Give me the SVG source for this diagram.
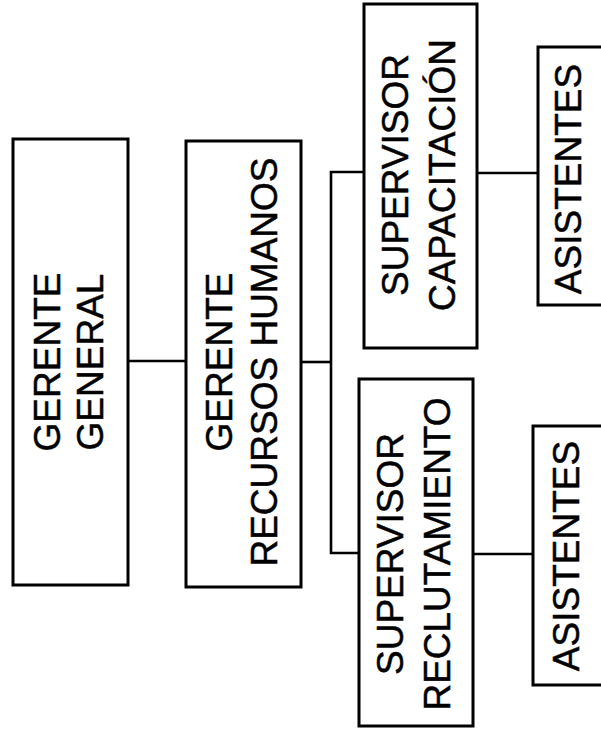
<svg xmlns="http://www.w3.org/2000/svg" width="601" height="737" viewBox="0 0 601 737">
  <style>
    .box { fill: #fff; stroke: #000; stroke-width: 3; }
    .link { fill: none; stroke: #000; stroke-width: 2.6; }
    .label { font-family: "Liberation Sans", Arial, sans-serif; font-size: 37px; fill: #000; stroke: #000; stroke-width: 0.5; text-anchor: middle; }
  </style>
  <rect width="601" height="737" fill="#fff"/>

  <!-- connectors -->
  <g id="connectors">
    <line class="link" x1="128" y1="361" x2="186" y2="361"/>
    <line class="link" x1="301" y1="362" x2="331" y2="362"/>
    <polyline class="link" points="364,172 331,172 331,553 359,553"/>
    <line class="link" x1="477" y1="173" x2="538" y2="173"/>
    <line class="link" x1="473" y1="554" x2="533" y2="554"/>
  </g>

  <g id="gerente-general">
    <rect class="box" x="13" y="139" width="115" height="446"/>
    <text class="label" transform="translate(60,362) rotate(-90)">GERENTE</text>
    <text class="label" transform="translate(103,362) rotate(-90)">GENERAL</text>
  </g>

  <g id="gerente-rrhh">
    <rect class="box" x="186" y="141" width="115" height="446"/>
    <text class="label" transform="translate(232,362) rotate(-90)">GERENTE</text>
    <text class="label" transform="translate(277,362) rotate(-90)">RECURSOS HUMANOS</text>
  </g>

  <g id="supervisor-capacitacion">
    <rect class="box" x="364" y="4" width="113" height="344"/>
    <text class="label" transform="translate(408,175) rotate(-90)">SUPERVISOR</text>
    <text class="label" transform="translate(455,175) rotate(-90)">CAPACITACIÓN</text>
  </g>

  <g id="supervisor-reclutamiento">
    <rect class="box" x="359" y="379" width="114" height="347"/>
    <text class="label" transform="translate(403,554) rotate(-90)">SUPERVISOR</text>
    <text class="label" transform="translate(450,554) rotate(-90)">RECLUTAMIENTO</text>
  </g>

  <g id="asistentes-capacitacion">
    <rect class="box" x="538" y="47" width="70" height="258"/>
    <text class="label" transform="translate(581,179) rotate(-90)">ASISTENTES</text>
  </g>

  <g id="asistentes-reclutamiento">
    <rect class="box" x="533" y="426" width="75" height="259"/>
    <text class="label" transform="translate(579,556) rotate(-90)">ASISTENTES</text>
  </g>
</svg>
